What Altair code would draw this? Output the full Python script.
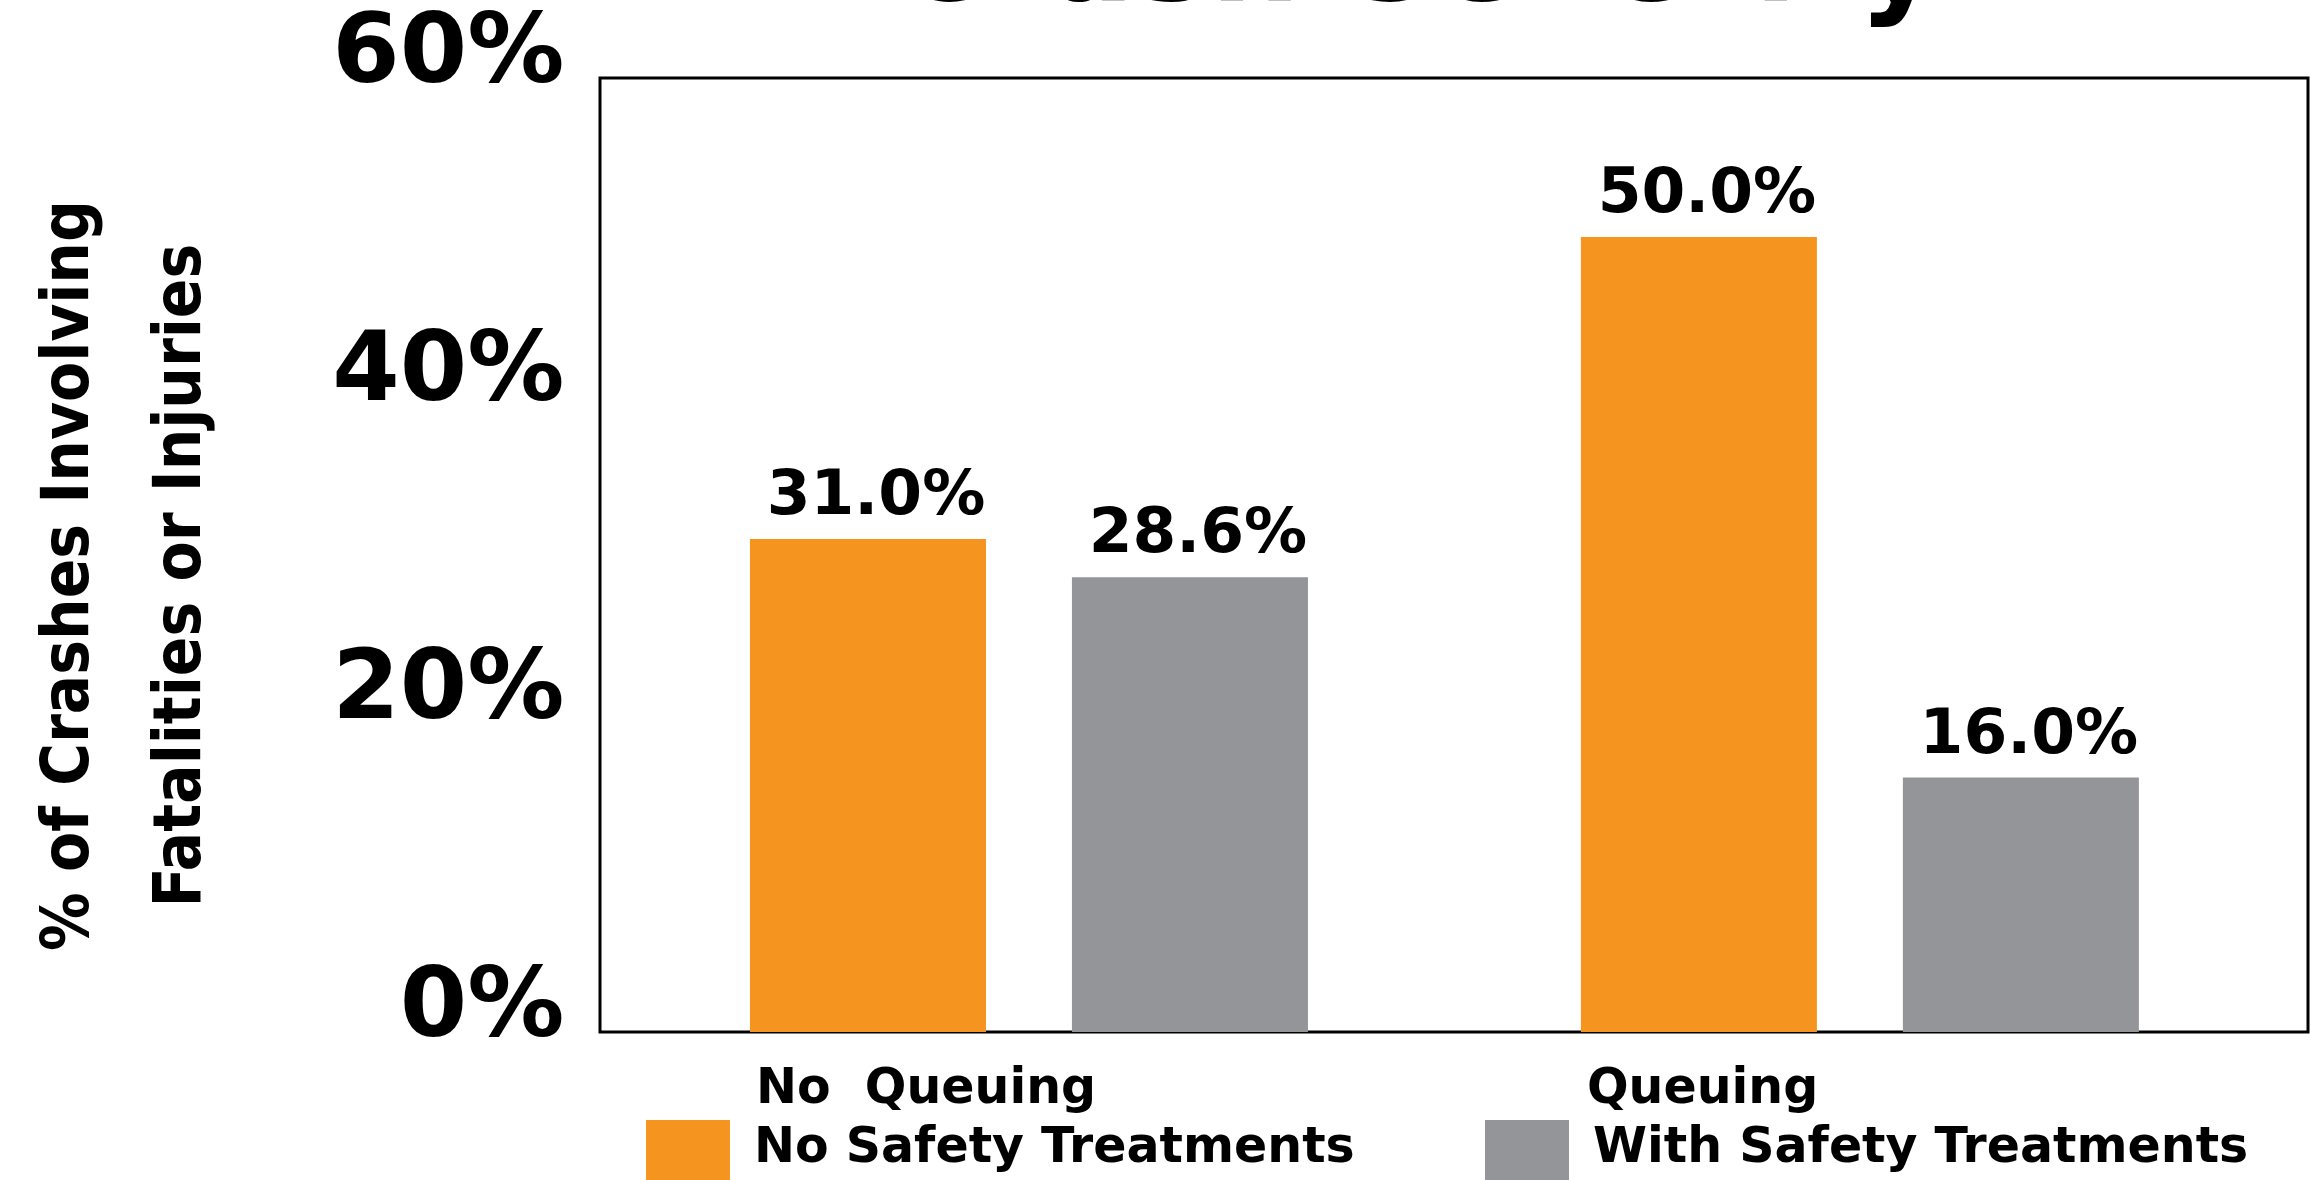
import altair as alt
import pandas as pd

# ---- data ----
groups = ["No\u00a0\u00a0Queuing", "Queuing"]
series = ["No Safety Treatments", "With Safety Treatments"]
no_safety = [31.0, 50.0]
with_safety = [28.6, 16.0]
y_ticks = [0, 20, 40, 60]
colors = ["#F5951F", "#949599"]

rows = []
for g, a, b in zip(groups, no_safety, with_safety):
    rows.append({"group": g, "series": series[0], "value": a})
    rows.append({"group": g, "series": series[1], "value": b})
df = pd.DataFrame(rows)
df["label"] = df["value"].map(lambda v: f"{v:.1f}%")

BOLD = "DejaVu Sans"
NARROW = "DejaVu Sans Condensed, Liberation Sans"

x = alt.X(
    "group:N", sort=groups, title=None,
    scale=alt.Scale(paddingInner=0.3285, paddingOuter=0.192, align=0.47),
    axis=alt.Axis(labelAlign="left", labelOffset=-273,
                  labelBaseline="alphabetic", labelPadding=70, ticks=False,
                  tickSize=0, domain=False, labelAngle=0, labelFont=BOLD,
                  labelFontWeight="bold", labelFontSize=49, labelColor="black",
                  labelLimit=1000),
)
xo = alt.XOffset("series:N", sort=series,
                 scale=alt.Scale(paddingInner=0.267, paddingOuter=0))
y = alt.Y(
    "value:Q",
    scale=alt.Scale(domain=[0, 60], nice=False, zero=True),
    axis=alt.Axis(values=y_ticks, labelExpr="datum.value + '%'", grid=False,
                  ticks=False, domain=False, labelFont=BOLD, labelFontWeight="bold",
                  labelFontSize=97, labelPadding=36, labelBaseline="alphabetic",
                  labelOffset=3, labelColor="black", labelLimit=1000,
                  labelOverlap=False,
                  title=["% of Crashes Involving", "Fatalities or Injuries"],
                  titleFont=NARROW, titleFontWeight="bold", titleFontSize=65,
                  titleAngle=270, titleX=-513, titleY=497, titleAlign="center",
                  titleBaseline="alphabetic", titleLineHeight=112,
                  titleColor="black"),
)
color = alt.Color(
    "series:N", sort=series,
    scale=alt.Scale(domain=series, range=colors),
    legend=alt.Legend(title=None, orient="none", legendX=46, legendY=1042,
                      direction="horizontal", symbolType="square",
                      symbolSize=7056, symbolStrokeWidth=0, symbolOpacity=1,
                      labelFont=BOLD, labelFontWeight="bold", labelFontSize=49,
                      labelOffset=24, columnPadding=130,
                      labelBaseline="alphabetic", labelLimit=1000, padding=0,
                      labelColor="black"),
)

base = alt.Chart(df)
bars = base.mark_bar().encode(x=x, xOffset=xo, y=y, color=color)
labels = base.mark_text(
    baseline="alphabetic", align="center", dy=-25, dx=8, font=BOLD,
    fontWeight="bold", fontSize=63, color="black",
).encode(x=x, xOffset=xo, y=y, text="label:N")

chart = (
    alt.layer(bars, labels)
    .properties(
        width=1708, height=954,
        autosize=alt.AutoSizeParams(type="none"),
        padding={"left": 600, "top": 78, "right": 3, "bottom": 148},
        title=alt.TitleParams("Crash Severity", font=BOLD, fontWeight="bold",
                              fontSize=127, anchor="middle", dx=-37, dy=124,
                              baseline="alphabetic", offset=0, color="black"),
        background="white",
    )
    .configure_view(stroke="black", strokeWidth=3)
)

chart.save("out.html", embed_options={"renderer": "svg", "actions": False})
